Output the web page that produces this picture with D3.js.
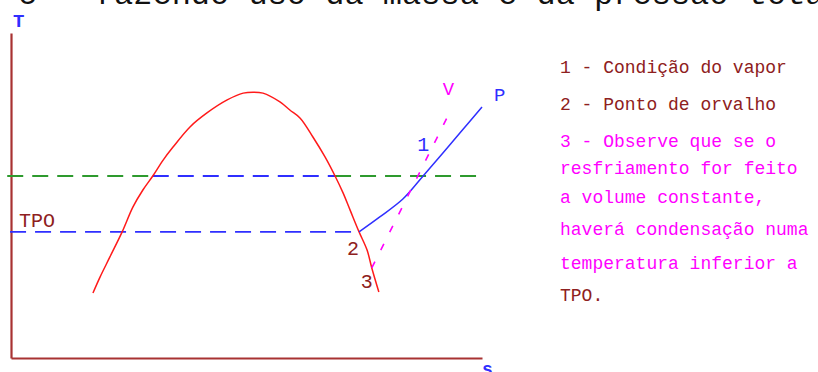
<!DOCTYPE html>
<html>
<head>
<meta charset="utf-8">
<script src="https://cdn.jsdelivr.net/npm/d3@7"></script>
<style>
html,body{margin:0;padding:0;background:#fff;}
svg{display:block;}
text{font-family:"Courier New","Liberation Mono",monospace;}
</style>
</head>
<body>
<svg id="chart" width="818" height="372"></svg>
<script>
// ---- data (unitless s–T diagram, domain 0..100) ----
const domeS = [17.4,18.9,21.0,23.6,25.9,28.0,30.1,32.3,34.4,38.0,41.6,45.9,49.3,51.4,53.5,57.1,59.2,61.4,64.1,66.7,68.8,70.5,72.0,73.9,75.6,76.6,78.1];
const domeT = [20.0,24.9,31.1,38.8,46.5,51.7,56.0,60.9,64.9,71.1,75.4,79.4,81.5,81.8,81.5,78.8,76.3,73.8,68.0,61.8,56.0,50.8,45.5,38.8,33.2,27.7,20.3];
const isobarS = [73.9,78.3,83.2,87.5,91.7,95.3,100.0];
const isobarT = [38.8,43.4,48.9,56.0,63.1,69.2,77.2];
const isochoreS = [76.6,93.6];
const isochoreT = [27.7,76.9];
const vaporT = 56.0;     // temperature of state 1
const tpoT = 38.8;       // dew point temperature
const vaporLineS = [-0.8, 30.1, 68.8, 99.6];
const tpoLineS = [-0.2, 73.9];
const title = "c – fazendo uso da massa e da pressão total";
const legendLines = [
  {t:"1 - Condição do vapor", c:"dark"},
  {t:"2 - Ponto de orvalho", c:"dark"},
  {t:"3 - Observe que se o", c:"mag"},
  {t:"resfriamento for feito", c:"mag"},
  {t:"a volume constante,", c:"mag"},
  {t:"haverá condensação numa", c:"mag"},
  {t:"temperatura inferior a", c:"mag"},
  {t:"TPO.", c:"dark"}
];
const legendBaselines = [73,110,147,174,203,235,269,301];

// ---- colours ----
const DARK = "#8e2020", MAG = "#ff00ff", BLUE = "#2f2fff", GREEN = "#2e9a2e", RED = "#ff1a1a", AXIS = "#a83232";

const svg = d3.select("#chart");
const x = d3.scaleLinear().domain([0,100]).range([11,482]);
const y = d3.scaleLinear().domain([0,100]).range([358,33]);

// title (clipped at the top)
svg.append("text").attr("x",18).attr("y",4).attr("font-size",32).attr("fill","#111").text(title);

// axes
const gx = svg.append("g").attr("transform",`translate(0,${y(0)})`)
  .call(d3.axisBottom(x).tickValues([]).tickSizeOuter(0));
const gy = svg.append("g").attr("transform",`translate(${x(0)},0)`)
  .call(d3.axisLeft(y).tickValues([]).tickSizeOuter(0));
[gx,gy].forEach(g=>g.select(".domain").attr("stroke",AXIS).attr("stroke-width",2.2));

svg.append("text").attr("x",13).attr("y",27).attr("font-size",19).attr("font-weight","bold")
  .attr("fill",BLUE).text("T");
svg.append("text").attr("x",482).attr("y",375).attr("font-size",18).attr("font-weight","bold")
  .attr("fill",BLUE).text("s");

// horizontal dashed lines
const hline = (s0,s1,T,col)=> svg.append("line")
  .attr("x1",x(s0)).attr("x2",x(s1)).attr("y1",y(T)).attr("y2",y(T))
  .attr("stroke",col).attr("stroke-width",1.8).attr("stroke-dasharray","16,9");
hline(vaporLineS[0],vaporLineS[1],vaporT,GREEN);
hline(vaporLineS[1],vaporLineS[2],vaporT,BLUE);
hline(vaporLineS[2],vaporLineS[3],vaporT,GREEN);
hline(tpoLineS[0],tpoLineS[1],tpoT,BLUE);

// saturation dome
const line = d3.line().x(d=>x(d[0])).y(d=>y(d[1])).curve(d3.curveCatmullRom);
svg.append("path").datum(d3.zip(domeS,domeT)).attr("d",line)
  .attr("fill","none").attr("stroke",RED).attr("stroke-width",1.5);

// isobar P
svg.append("path").datum(d3.zip(isobarS,isobarT)).attr("d",line)
  .attr("fill","none").attr("stroke",BLUE).attr("stroke-width",1.5);

// isochore V
svg.append("path").datum(d3.zip(isochoreS,isochoreT)).attr("d",d3.line().x(d=>x(d[0])).y(d=>y(d[1])))
  .attr("fill","none").attr("stroke",MAG).attr("stroke-width",1.6).attr("stroke-dasharray","7,13");

// point labels
const lbl = (px,py,txt,col,fs)=> svg.append("text").attr("x",px).attr("y",py)
  .attr("font-size",fs).attr("fill",col).text(txt);
lbl(19, y(tpoT)-5, "TPO", DARK, 20);
lbl(x(87.5)-6, y(vaporT)-25, "1", BLUE, 20);
lbl(x(73.9)-12, y(tpoT)+23, "2", DARK, 20);
lbl(x(76.6)-11, y(27.7)+20, "3", DARK, 20);
lbl(x(100)+12, y(77.2)-6, "P", BLUE, 19);
lbl(x(93.6)-9, y(76.9)-13, "V", MAG, 19);

// legend / notes
svg.append("g").selectAll("text").data(legendLines).join("text")
  .attr("x",560).attr("y",(d,i)=>legendBaselines[i])
  .attr("font-size",18).attr("fill",d=>d.c==="mag"?MAG:DARK).text(d=>d.t);
</script>
</body>
</html>
